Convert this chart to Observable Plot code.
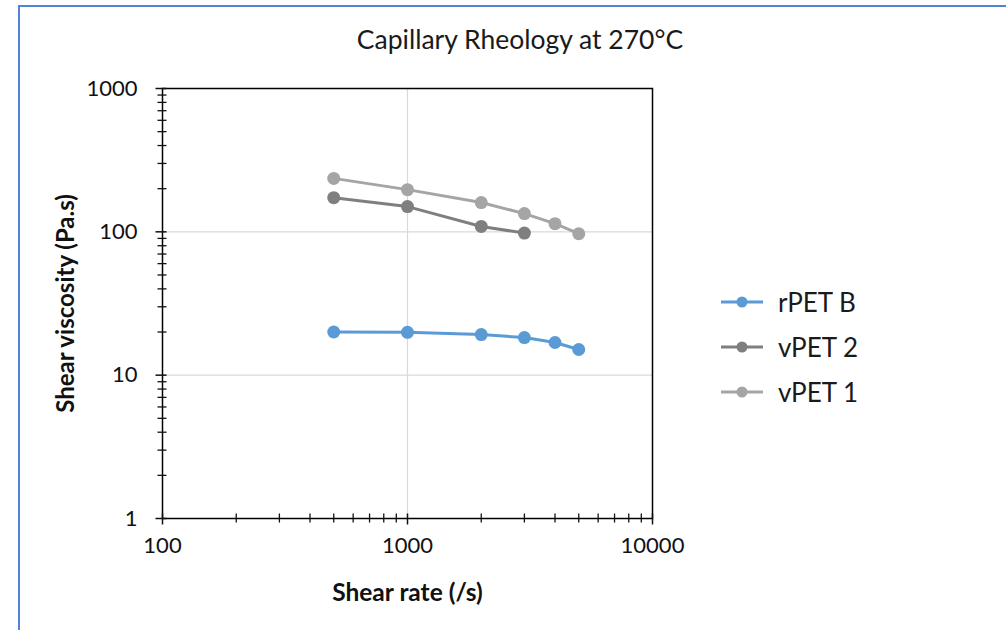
<!DOCTYPE html>
<html><head><meta charset="utf-8">
<script src="https://cdn.jsdelivr.net/npm/d3@7"></script>
<script src="https://cdn.jsdelivr.net/npm/@observablehq/plot@0.6"></script>
<style>
body{margin:0;background:#fff;}
#wrap{position:relative;width:1006px;height:630px;overflow:hidden;font-family:Lato,"Open Sans",sans-serif;background:#fff;}
#border{position:absolute;left:18px;top:5px;width:1100px;height:700px;border-left:2px solid #4f82d8;border-top:2px solid #4f82d8;}
#title{position:absolute;left:0;width:1040px;top:23px;text-align:center;font-size:26.5px;color:#1a1a1a;line-height:32px;}
#chart{position:absolute;left:0;top:0;}
#legend{position:absolute;left:720px;top:279px;font-size:26px;color:#1a1a1a;}
.item{display:flex;align-items:center;height:45px;}
.item svg{margin-right:14px;}
g[aria-label="x-axis label"] text{font-weight:bold;font-size:24.5px;}
g[aria-label="y-axis label"] text{font-weight:bold;font-size:24px;}
</style></head>
<body>
<div id="wrap">
  <div id="border"></div>
  <div id="chart"></div>
  <div id="title"></div>
  <div id="legend"></div>
</div>
<script>
const title = "Capillary Rheology at 270°C";
const xLabel = "Shear rate (/s)";
const yLabel = "Shear viscosity (Pa.s)";
const seriesNames = ["rPET B", "vPET 2", "vPET 1"];
const seriesColors = ["#5B9BD5", "#7F7F7F", "#A5A5A5"];
const shearRate = [500, 1000, 2000, 3000, 4000, 5000];
const rPETB = [20.0, 19.9, 19.2, 18.3, 16.9, 15.1];
const vPET2 = [173, 150, 109, 98];
const vPET1 = [236, 197, 160, 134, 114, 97];
const xMajorTicks = [100, 1000, 10000];
const yMajorTicks = [1, 10, 100, 1000];

const seriesValues = [rPETB, vPET2, vPET1];
const rows = [];
seriesNames.forEach((name, i) => {
  seriesValues[i].forEach((v, j) => rows.push({series: name, rate: shearRate[j], visc: v}));
});
const minorOf = (majors) => majors.slice(0, -1).flatMap(d => d3.range(2, 10).map(k => d * k));
const xMinor = minorOf(xMajorTicks);
const yMinor = minorOf(yMajorTicks);
const xGrid = xMajorTicks.slice(1, -1);
const yGrid = yMajorTicks.slice(1, -1);

const plot = Plot.plot({
  width: 1006,
  height: 630,
  marginLeft: 162,
  marginRight: 354,
  marginTop: 88,
  marginBottom: 112,
  style: {fontFamily: "Lato, 'Open Sans', sans-serif", fontSize: "22px", color: "#111", background: "transparent"},
  x: {type: "log", domain: [100, 10000]},
  y: {type: "log", domain: [1, 1000]},
  color: {domain: seriesNames, range: seriesColors},
  marks: [
    Plot.ruleY(yGrid, {stroke: "#d9d9d9", strokeWidth: 1.2}),
    Plot.ruleX(xGrid, {stroke: "#d9d9d9", strokeWidth: 1.2}),
    Plot.frame({stroke: "#000", strokeWidth: 1.5}),
    Plot.axisX(xMinor, {tickSize: 9, dy: -4.5, tickFormat: () => "", label: null, strokeWidth: 1.3}),
    Plot.axisX(xMajorTicks, {tickSize: 11, dy: -4.5, tickFormat: () => "", label: null, strokeWidth: 1.5}),
    Plot.axisX(xMajorTicks, {tickSize: 0, tickPadding: 19, tickFormat: d => String(d), label: xLabel, labelAnchor: "center", labelArrow: "none", labelOffset: 82}),
    Plot.axisY(yMinor, {tickSize: 9, dx: 4.5, tickFormat: () => "", label: null, strokeWidth: 1.3}),
    Plot.axisY(yMajorTicks, {tickSize: 11, dx: 4.5, tickFormat: () => "", label: null, strokeWidth: 1.5}),
    Plot.axisY(yMajorTicks, {tickSize: 0, tickPadding: 25, tickFormat: d => String(d), label: yLabel, labelAnchor: "center", labelArrow: "none", labelOffset: 106}),
    Plot.line(rows, {x: "rate", y: "visc", z: "series", stroke: "series", strokeWidth: 3}),
    Plot.dot(rows, {x: "rate", y: "visc", fill: "series", r: 6.5})
  ]
});
document.getElementById("chart").appendChild(plot);
document.getElementById("title").textContent = title;

const legend = document.getElementById("legend");
seriesNames.forEach((name, i) => {
  const item = document.createElement("div");
  item.className = "item";
  item.innerHTML = `<svg width="44" height="14"><line x1="1" x2="43" y1="7" y2="7" stroke="${seriesColors[i]}" stroke-width="3"/><circle cx="22" cy="7" r="5.5" fill="${seriesColors[i]}"/></svg><span>${name}</span>`;
  legend.appendChild(item);
});
</script>
</body></html>
